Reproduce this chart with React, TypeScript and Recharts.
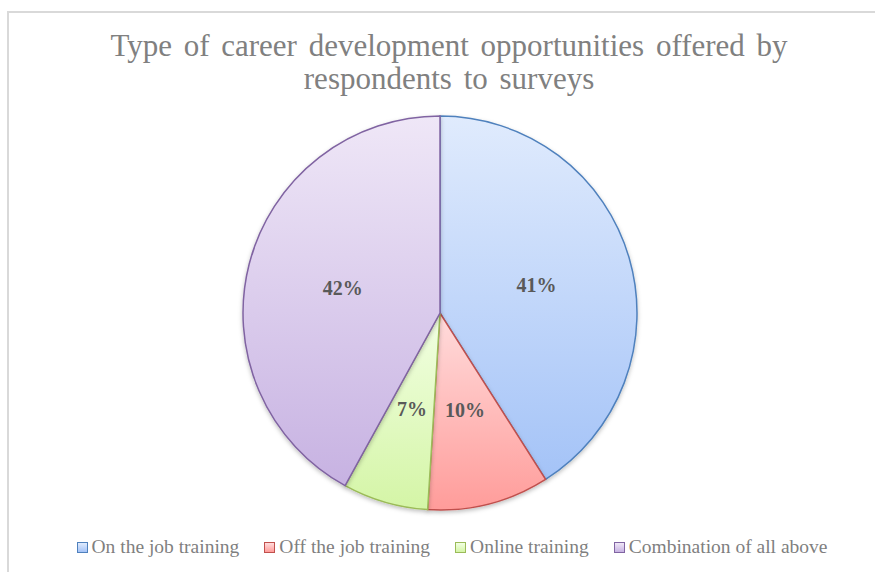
import React from 'react'
import { PieChart, Pie, Cell, Legend } from 'recharts'

const categories = ['On the job training', 'Off the job training', 'Online training', 'Combination of all above']
const shares = [41, 10, 7, 42]

const STROKES = ['#4f81bd', '#c0504d', '#9bbb59', '#8064a2']
const GRAD_TOP = ['#e0ebfd', '#ffdcdc', '#f2ffe3', '#efe7f7']
const GRAD_BOTTOM = ['#a4c3f7', '#ff9c9a', '#d4f5a6', '#c7b2e2']

const data = categories.map((name, i) => ({ name, value: shares[i] }))

const RADIAN = Math.PI / 180

function renderLabel(props: any) {
  const { cx, cy, midAngle, outerRadius, value } = props
  const r = outerRadius * 0.51
  const x = cx + r * Math.cos(-midAngle * RADIAN)
  const y = cy + r * Math.sin(-midAngle * RADIAN)
  return (
    <text
      x={x}
      y={y}
      textAnchor="middle"
      dominantBaseline="central"
      fill="#595959"
      fontSize={20}
      fontWeight="bold"
      fontFamily="'Liberation Serif', serif"
    >
      {`${value}%`}
    </text>
  )
}

function LegendContent() {
  return (
    <div
      style={{
        display: 'flex',
        justifyContent: 'center',
        gap: 25,
        paddingLeft: 29,
        fontFamily: "'Liberation Serif', serif",
        fontSize: 19.5,
        color: '#7f7f7f',
      }}
    >
      {categories.map((c, i) => (
        <div key={c} style={{ display: 'flex', alignItems: 'center' }}>
          <div
            style={{
              width: 9,
              height: 9,
              marginRight: 4,
              border: `1.5px solid ${STROKES[i]}`,
              background: `linear-gradient(${GRAD_TOP[i]}, ${GRAD_BOTTOM[i]})`,
            }}
          />
          <span>{c}</span>
        </div>
      ))}
    </div>
  )
}

export default function App() {
  return (
    <div style={{ position: 'absolute', left: 0, top: 0, width: 875, height: 572, overflow: 'hidden', background: '#fff' }}>
      <div
        style={{
          position: 'absolute',
          left: 7,
          top: 11,
          width: 900,
          height: 600,
          border: '2px solid #d9d9d9',
        }}
      />
      <div
        style={{
          position: 'absolute',
          left: 0,
          top: 29,
          width: 898,
          textAlign: 'center',
          fontFamily: "'Liberation Serif', serif",
          fontSize: 31,
          lineHeight: '33px',
          color: '#808080',
          wordSpacing: 4,
        }}
      >
        Type of career development opportunities offered by
        <br />
        respondents to surveys
      </div>
      <PieChart
        width={875}
        height={572}
        margin={{ top: 0, right: 0, bottom: 0, left: 0 }}
        style={{ position: 'absolute', left: 0, top: 0 }}
      >
        <defs>
          {STROKES.map((s, i) => (
            <linearGradient key={s} id={`grad-${i}`} x1="0" y1="0" x2="0" y2="1">
              <stop offset="0%" stopColor={GRAD_TOP[i]} />
              <stop offset="100%" stopColor={GRAD_BOTTOM[i]} />
            </linearGradient>
          ))}
          <filter id="shadow" x="-10%" y="-10%" width="120%" height="120%">
            <feDropShadow dx="0" dy="2" stdDeviation="2" floodColor="#000" floodOpacity="0.25" />
          </filter>
        </defs>
        <Pie
          data={data}
          dataKey="value"
          nameKey="name"
          cx={440}
          cy={313}
          outerRadius={197}
          startAngle={90}
          endAngle={-270}
          label={renderLabel}
          labelLine={false}
          isAnimationActive={false}
          style={{ filter: 'url(#shadow)' }}
        >
          {data.map((entry, i) => (
            <Cell key={entry.name} fill={`url(#grad-${i})`} stroke={STROKES[i]} strokeWidth={1.5} />
          ))}
        </Pie>
        <Legend content={<LegendContent />} wrapperStyle={{ position: 'absolute', top: 536, left: 0, width: 875 }} />
      </PieChart>
    </div>
  )
}
